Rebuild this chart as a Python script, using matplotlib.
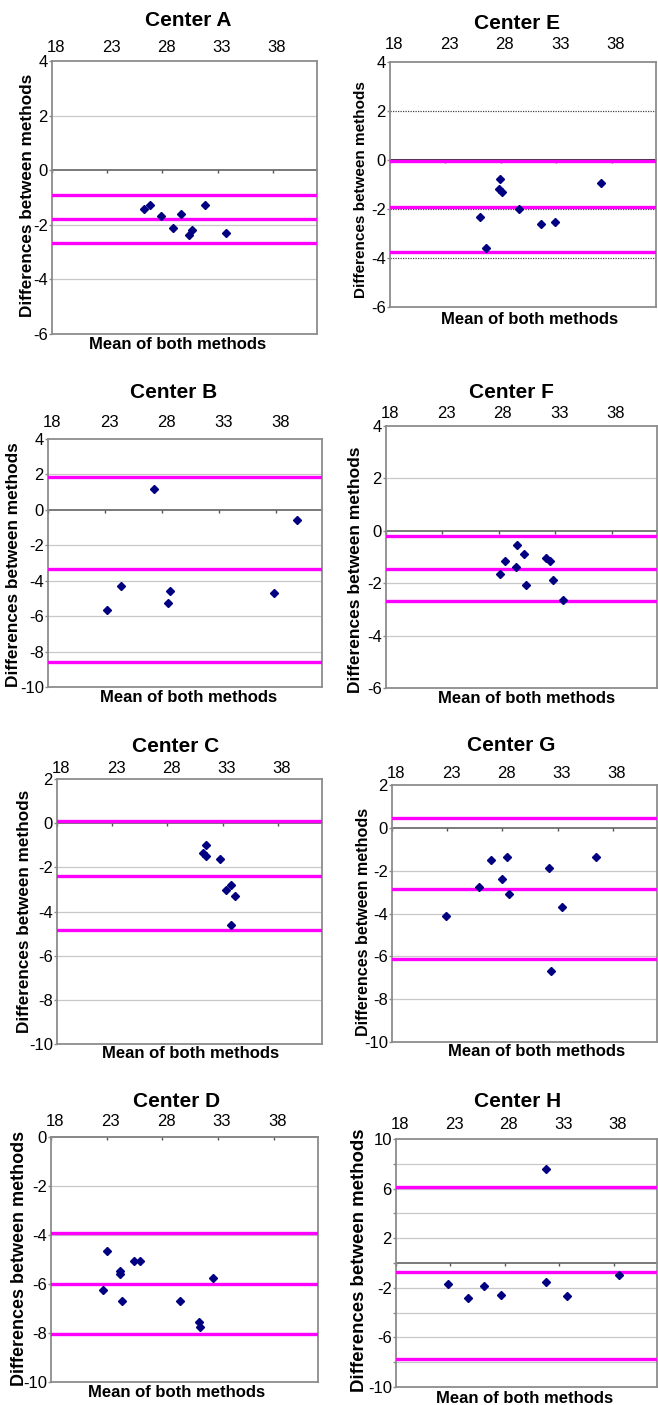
import matplotlib
matplotlib.use("Agg")
import matplotlib.pyplot as plt
from matplotlib.transforms import ScaledTranslation

plt.rcParams['font.family'] = ['Liberation Sans', 'DejaVu Sans']

# ---- data ----
x_ticks = [18, 23, 28, 33, 38]

a_x = [26.3, 26.9, 27.9, 29.0, 29.7, 30.4, 30.7, 31.9, 33.8]
a_y = [-1.41, -1.29, -1.67, -2.12, -1.60, -2.39, -2.20, -1.29, -2.30]
a_lines = [-0.91, -1.79, -2.68]

e_x = [26.1, 26.7, 27.9, 27.8, 28.1, 29.6, 31.6, 32.9, 37.0]
e_y = [-2.31, -3.60, -0.79, -1.20, -1.32, -2.00, -2.61, -2.52, -0.93]
e_lines = [-0.06, -1.90, -3.74]

b_x = [27.3, 39.8, 24.4, 23.2, 28.5, 28.7, 37.8]
b_y = [1.16, -0.58, -4.30, -5.63, -5.23, -4.60, -4.67]
b_lines = [1.87, -3.36, -8.60]

f_x = [28.06, 28.5, 29.5, 29.6, 30.2, 30.4, 32.2, 32.5, 32.8, 33.7]
f_y = [-1.66, -1.17, -1.39, -0.55, -0.87, -2.08, -1.04, -1.17, -1.89, -2.66]
f_lines = [-0.19, -1.44, -2.69]

c_x = [31.5, 31.2, 31.5, 32.8, 33.8, 33.3, 34.15, 33.8]
c_y = [-0.98, -1.36, -1.49, -1.60, -2.79, -3.02, -3.32, -4.59]
c_lines = [0.08, -2.37, -4.83]

g_x = [22.9, 25.9, 27.0, 28.0, 28.4, 28.6, 32.2, 32.4, 33.4, 36.5]
g_y = [-4.11, -2.77, -1.50, -2.38, -1.36, -3.08, -1.89, -6.69, -3.69, -1.36]
g_lines = [0.44, -2.84, -6.14]

d_x = [23.06, 22.7, 24.2, 24.2, 24.4, 25.5, 26.0, 29.6, 31.3, 31.4, 32.6]
d_y = [-4.64, -6.25, -5.47, -5.59, -6.68, -5.08, -5.08, -6.68, -7.54, -7.75, -5.77]
d_lines = [-3.93, -6.02, -8.06]

h_x = [31.8, 22.8, 24.6, 26.1, 27.7, 31.8, 33.7, 38.5]
h_y = [7.57, -1.70, -2.84, -1.89, -2.57, -1.57, -2.68, -1.00]
h_lines = [6.16, -0.73, -7.76]
h_ylabels = ['-10', '', '-6', '', '-2', '', '2', '', '6', '', '10']

# ---- layout in pixels: axes (left, right, top, bottom), title xy, xlabel xy, ylabel xy ----
W, H = 658, 1405
panels = [
    dict(name="Center A", x=a_x, y=a_y, lines=a_lines, ylim=(-6, 4),
         box=(52, 317, 61, 334), title=(188, 26), xlab=(178, 349), ylab=(28, 195), ylfs=12.3, pad=2.0),
    dict(name="Center E", x=e_x, y=e_y, lines=e_lines, ylim=(-6, 4),
         box=(390, 656, 62, 307), title=(517, 29), xlab=(530, 324), ylab=(361, 190), ylfs=11.0, pad=5.0, dotted=True),
    dict(name="Center B", x=b_x, y=b_y, lines=b_lines, ylim=(-10, 4),
         box=(48, 322, 439, 687), title=(174, 398), xlab=(189, 702), ylab=(14, 565), ylfs=12.4, pad=4.0),
    dict(name="Center F", x=f_x, y=f_y, lines=f_lines, ylim=(-6, 4),
         box=(386, 657, 426, 688), title=(511, 398), xlab=(527, 703), ylab=(356, 570), ylfs=12.5, pad=1.2),
    dict(name="Center C", x=c_x, y=c_y, lines=c_lines, ylim=(-10, 2),
         box=(57, 322, 779, 1044), title=(176, 752), xlab=(191, 1058), ylab=(25, 911), ylfs=12.3, pad=0.0),
    dict(name="Center G", x=g_x, y=g_y, lines=g_lines, ylim=(-10, 2),
         box=(392, 657, 785, 1042), title=(511, 751), xlab=(537, 1056), ylab=(363, 922), ylfs=11.6, pad=0.5),
    dict(name="Center D", x=d_x, y=d_y, lines=d_lines, ylim=(-10, 0),
         box=(51, 318, 1137, 1382), title=(177, 1107), xlab=(177, 1397), ylab=(20, 1258), ylfs=13.0, pad=3.4),
    dict(name="Center H", x=h_x, y=h_y, lines=h_lines, ylim=(-10, 10), ylabels=h_ylabels,
         box=(396, 657, 1139, 1387), title=(518, 1107), xlab=(525, 1403), ylab=(360, 1260), ylfs=13.4, pad=2.7),
]

fig = plt.figure(figsize=(W / 100, H / 100), dpi=100)
frame = '#8c8c8c'

for p in panels:
    l, r, t, b = p['box']
    ax = fig.add_axes([l / W, 1 - b / H, (r - l) / W, (b - t) / H])
    ax.set_xlim(18, 42)
    ax.set_ylim(*p['ylim'])

    yt = list(range(p['ylim'][0], p['ylim'][1] + 1, 2))
    ax.set_yticks(yt)
    ax.set_yticklabels(p.get('ylabels', [str(v) for v in yt]))
    ax.set_xticks(x_ticks)

    # gridlines
    for v in yt:
        if v == 0 or v in p['ylim']:
            continue
        if p.get('dotted'):
            ax.axhline(v, color='#444444', lw=0.9, ls=(0, (1, 1)), zorder=1)
        else:
            ax.axhline(v, color='#c8c8c8', lw=0.9, zorder=1)

    # x axis crossing at zero, labels on top
    ax.spines['bottom'].set_position(('data', 0))
    ax.spines['bottom'].set_color('black' if p.get('dotted') else '#555555')
    ax.spines['bottom'].set_linewidth(1.1)
    ax.spines['bottom'].set_zorder(2)
    for s in ['left', 'right', 'top']:
        ax.spines[s].set_color(frame)
        ax.spines[s].set_linewidth(1.3)
    ax.plot([0, 1], [0, 0], transform=ax.transAxes, color=frame, lw=1.3, clip_on=False, zorder=3)

    ax.tick_params(axis='x', bottom=True, top=False, labelbottom=False, labeltop=True,
                   direction='out', length=2.5, width=1, color='#555555', labelsize=12, pad=p['pad'])
    ax.tick_params(axis='y', length=2, width=1, color=frame, labelsize=12, pad=1)
    off = ScaledTranslation(4 / 100, 0, fig.dpi_scale_trans)
    for lab in ax.get_xticklabels():
        lab.set_transform(lab.get_transform() + off)

    for v in p['lines']:
        ax.axhline(v, color='#ff00ff', lw=2.4, zorder=4)
    ax.plot(p['x'], p['y'], ls='none', marker='D', ms=4.3, color='#000080', zorder=5)

    fig.text(p['title'][0] / W, 1 - p['title'][1] / H, p['name'], ha='center', va='baseline',
             fontsize=15, fontweight='bold')
    fig.text(p['xlab'][0] / W, 1 - p['xlab'][1] / H, "Mean of both methods", ha='center', va='baseline',
             fontsize=12, fontweight='bold')
    fig.text(p['ylab'][0] / W, 1 - p['ylab'][1] / H, "Differences between methods", ha='center', va='center',
             rotation=90, fontsize=p['ylfs'], fontweight='bold')

fig.savefig("out.png", dpi=100)
